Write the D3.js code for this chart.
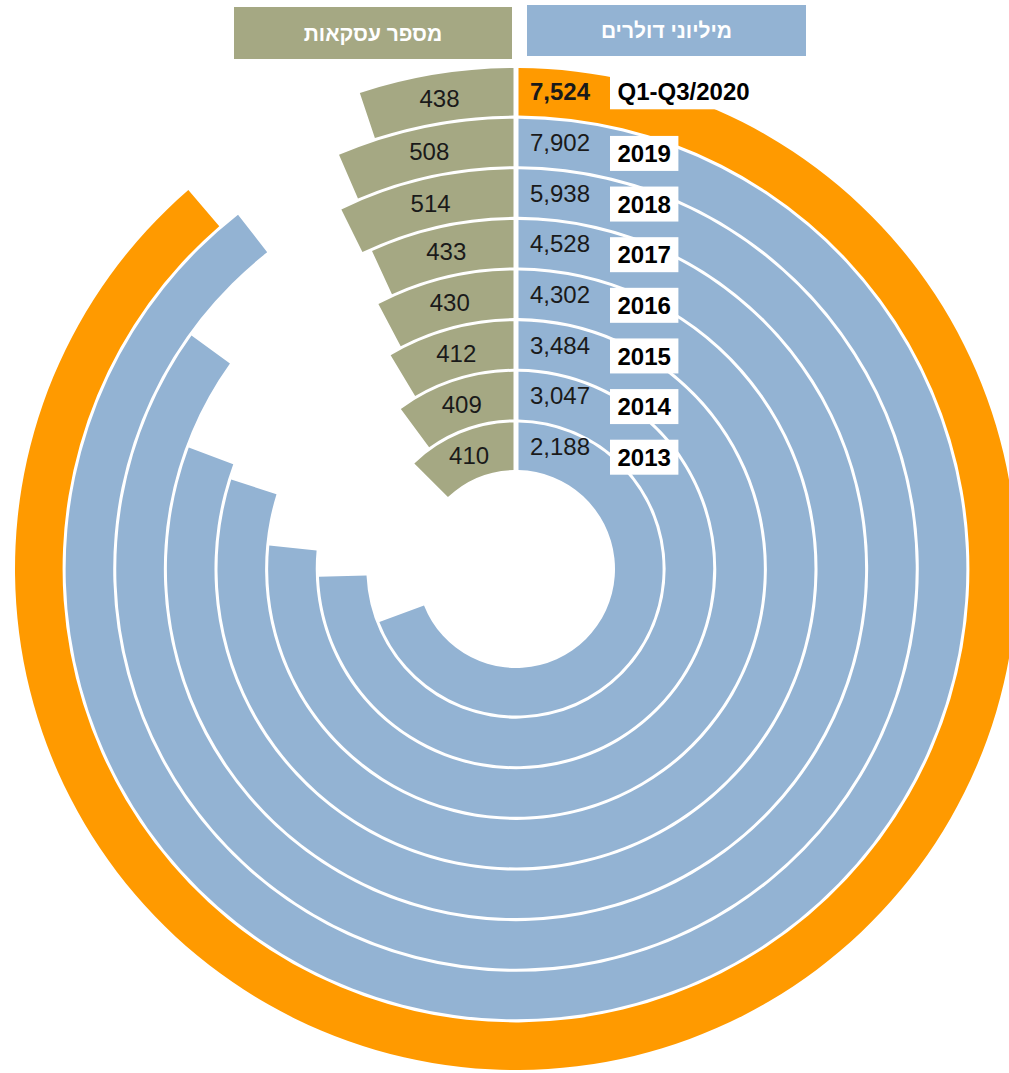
<!DOCTYPE html>
<html>
<head>
<meta charset="utf-8">
<script src="https://cdn.jsdelivr.net/npm/d3@7"></script>
<style>
body { margin: 0; background: #fff; }
text { font-family: "Liberation Sans", Arial, "DejaVu Sans", sans-serif; }
</style>
</head>
<body>
<div id="chart"></div>
<script>
// rings, from the inside out
var years = ["2013", "2014", "2015", "2016", "2017", "2018", "2019", "Q1-Q3/2020"];
var dollars = [2188, 3047, 3484, 4302, 4528, 5938, 7902, 7524]; // millions of dollars
var deals = [410, 409, 412, 430, 433, 514, 508, 438];           // number of deals
var headers = ["מיליוני דולרים", "מספר עסקאות"];

var blue = "#93b3d3", orange = "#ff9a00", olive = "#a5a883", ink = "#1a1a1a";

var width = 1009, height = 1073;
var cx = 516, cy = 569;

var rows = years.map(function(y, i){
    return {year: y, usd: dollars[i], n: deals[i], last: i === years.length - 1};
});

var svg = d3.select("#chart").append("svg")
    .attr("width", width)
    .attr("height", height);

//one band per year
var r = d3.scaleBand().domain(years).range([99, 501]).paddingInner(0.06);
var bw = r.bandwidth();

//dollars -> sweep clockwise from 12 o'clock (the drawing is not zero based)
var deg = Math.PI / 180;
var ang = d3.scaleLog().domain([2000, 8000]).range([244.7 * deg, 322.9 * deg]);

//deals -> arc length, counter clockwise
var len = d3.scaleLinear().domain([0, 500]).range([0, 211.7]);
function dealAngle(d){ return len(d.n) / (r(d.year) + bw + 75); }

var arc = d3.arc().padAngle(0.01).padRadius(500);

function usdArc(d){
    return {innerRadius: r(d.year), outerRadius: r(d.year) + bw, startAngle: 0, endAngle: ang(d.usd)};
}
function dealArc(d){
    return {innerRadius: r(d.year), outerRadius: r(d.year) + bw, startAngle: -dealAngle(d), endAngle: 0};
}

var g = svg.append("g").attr("transform", "translate(" + cx + "," + cy + ")");

g.selectAll("path.usd")
    .data(rows)
    .join("path")
    .attr("class", "usd")
    .attr("d", function(d){ return arc(usdArc(d)); })
    .attr("fill", function(d){ return d.last ? orange : blue; });

g.selectAll("path.deal")
    .data(rows)
    .join("path")
    .attr("class", "deal")
    .attr("d", function(d){ return arc(dealArc(d)); })
    .attr("fill", olive);

//deal counts
g.selectAll("text.deal")
    .data(rows)
    .join("text")
    .attr("class", "deal")
    .attr("transform", function(d){ return "translate(" + arc.centroid(dealArc(d)) + ")"; })
    .attr("text-anchor", "middle")
    .attr("dy", "0.36em")
    .attr("font-size", 24)
    .attr("fill", ink)
    .text(function(d){ return d.n; });

//dollar values
var fmt = d3.format(",");
g.selectAll("text.usd")
    .data(rows)
    .join("text")
    .attr("class", "usd")
    .attr("x", 14)
    .attr("y", function(d){ return -(r(d.year) + bw / 2); })
    .attr("dy", "0.36em")
    .attr("font-size", 24)
    .attr("font-weight", function(d){ return d.last ? "bold" : "normal"; })
    .attr("fill", ink)
    .text(function(d){ return fmt(d.usd); });

//year tags on white boxes
var tags = g.selectAll("g.tag")
    .data(rows)
    .join("g")
    .attr("class", "tag")
    .attr("transform", function(d){
        var y = -(r(d.year) + bw / 2) + (d.last ? 0 : 11);
        return "translate(94," + y + ")";
    });

tags.append("rect").attr("fill", "#fff");
tags.append("text")
    .attr("x", 7.5)
    .attr("dy", "0.36em")
    .attr("font-size", 24)
    .attr("font-weight", "bold")
    .attr("fill", "#000")
    .text(function(d){ return d.year; });

tags.each(function(){
    var t = d3.select(this).select("text").node().getComputedTextLength();
    d3.select(this).select("rect")
        .attr("x", 0)
        .attr("y", -17.5)
        .attr("width", t + 15)
        .attr("height", 35);
});

//headers
var head = [
    {label: headers[0], x: 527, y: 5, w: 279, h: 51, c: blue},
    {label: headers[1], x: 234, y: 7, w: 278, h: 52, c: olive}
];
var hd = svg.selectAll("g.head")
    .data(head)
    .join("g")
    .attr("class", "head");

hd.append("rect")
    .attr("x", function(d){ return d.x; })
    .attr("y", function(d){ return d.y; })
    .attr("width", function(d){ return d.w; })
    .attr("height", function(d){ return d.h; })
    .attr("fill", function(d){ return d.c; });

hd.append("text")
    .attr("x", function(d){ return d.x + d.w / 2; })
    .attr("y", function(d){ return d.y + d.h / 2; })
    .attr("dy", "0.36em")
    .attr("text-anchor", "middle")
    .attr("direction", "rtl")
    .attr("font-size", 21)
    .attr("font-weight", "bold")
    .attr("fill", "#fff")
    .text(function(d){ return d.label; });
</script>
</body>
</html>
